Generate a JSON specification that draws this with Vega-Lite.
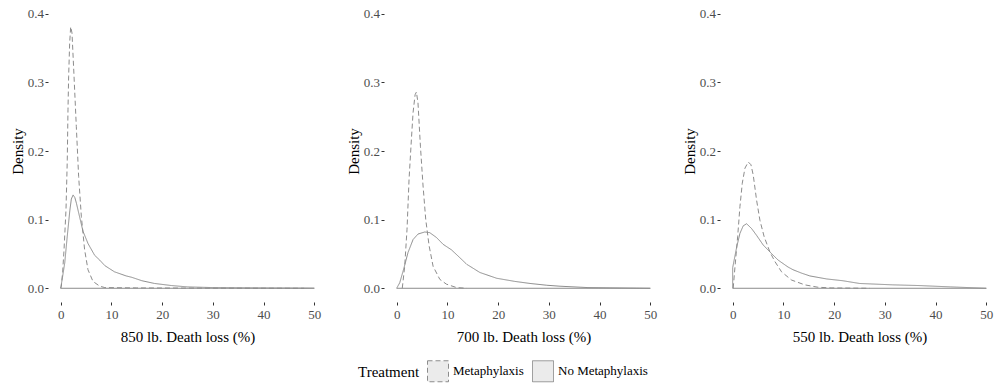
{
  "$schema": "https://vega.github.io/schema/vega-lite/v6.json",
  "padding": {"left": 10, "top": 0, "right": 0, "bottom": 0},
  "background": "white",
  "bounds": "flush",
  "spacing": 57,
  "config": {
    "font": "Liberation Serif",
    "view": {"stroke": null},
    "axis": {"domain": false, "grid": false, "tickColor": "#333333", "tickSize": 3, "labelColor": "#4d4d4d", "labelFontSize": 13, "labelFont": "Liberation Serif", "titleFont": "Liberation Serif", "titleFontSize": 15, "titleFontWeight": "normal", "titleColor": "#000000"},
    "axisX": {"labelPadding": 3, "titlePadding": 8},
    "axisY": {"labelPadding": 1.5, "titlePadding": 2}
  },
  "data": {"values": [
    {"p":"850","t":"Metaphylaxis","x":0,"d":0},
    {"p":"850","t":"Metaphylaxis","x":0.13,"d":0.003},
    {"p":"850","t":"Metaphylaxis","x":0.4,"d":0.025},
    {"p":"850","t":"Metaphylaxis","x":0.66,"d":0.056},
    {"p":"850","t":"Metaphylaxis","x":1.05,"d":0.115},
    {"p":"850","t":"Metaphylaxis","x":1.3,"d":0.187},
    {"p":"850","t":"Metaphylaxis","x":1.44,"d":0.26},
    {"p":"850","t":"Metaphylaxis","x":1.57,"d":0.309},
    {"p":"850","t":"Metaphylaxis","x":1.77,"d":0.357},
    {"p":"850","t":"Metaphylaxis","x":1.97,"d":0.381},
    {"p":"850","t":"Metaphylaxis","x":2.23,"d":0.372},
    {"p":"850","t":"Metaphylaxis","x":2.63,"d":0.309},
    {"p":"850","t":"Metaphylaxis","x":3.08,"d":0.236},
    {"p":"850","t":"Metaphylaxis","x":3.54,"d":0.163},
    {"p":"850","t":"Metaphylaxis","x":4.07,"d":0.105},
    {"p":"850","t":"Metaphylaxis","x":4.72,"d":0.056},
    {"p":"850","t":"Metaphylaxis","x":5.38,"d":0.027},
    {"p":"850","t":"Metaphylaxis","x":6.37,"d":0.010},
    {"p":"850","t":"Metaphylaxis","x":7.7,"d":0.003},
    {"p":"850","t":"Metaphylaxis","x":8.7,"d":0.001},
    {"p":"850","t":"Metaphylaxis","x":15,"d":0.0005},
    {"p":"850","t":"Metaphylaxis","x":30,"d":0.0002},
    {"p":"850","t":"Metaphylaxis","x":48,"d":0},
    {"p":"850","t":"No Metaphylaxis","x":0,"d":0},
    {"p":"850","t":"No Metaphylaxis","x":0.4,"d":0.018},
    {"p":"850","t":"No Metaphylaxis","x":0.8,"d":0.037},
    {"p":"850","t":"No Metaphylaxis","x":1.3,"d":0.076},
    {"p":"850","t":"No Metaphylaxis","x":1.8,"d":0.113},
    {"p":"850","t":"No Metaphylaxis","x":2.1,"d":0.13},
    {"p":"850","t":"No Metaphylaxis","x":2.45,"d":0.136},
    {"p":"850","t":"No Metaphylaxis","x":2.8,"d":0.132},
    {"p":"850","t":"No Metaphylaxis","x":3.1,"d":0.124},
    {"p":"850","t":"No Metaphylaxis","x":3.7,"d":0.105},
    {"p":"850","t":"No Metaphylaxis","x":4.4,"d":0.083},
    {"p":"850","t":"No Metaphylaxis","x":5.4,"d":0.065},
    {"p":"850","t":"No Metaphylaxis","x":6.7,"d":0.048},
    {"p":"850","t":"No Metaphylaxis","x":7.7,"d":0.041},
    {"p":"850","t":"No Metaphylaxis","x":8.7,"d":0.033},
    {"p":"850","t":"No Metaphylaxis","x":10.6,"d":0.024},
    {"p":"850","t":"No Metaphylaxis","x":12.9,"d":0.018},
    {"p":"850","t":"No Metaphylaxis","x":14,"d":0.016},
    {"p":"850","t":"No Metaphylaxis","x":16,"d":0.011},
    {"p":"850","t":"No Metaphylaxis","x":18.5,"d":0.007},
    {"p":"850","t":"No Metaphylaxis","x":21.8,"d":0.004},
    {"p":"850","t":"No Metaphylaxis","x":25,"d":0.002},
    {"p":"850","t":"No Metaphylaxis","x":30,"d":0.001},
    {"p":"850","t":"No Metaphylaxis","x":40,"d":0.0005},
    {"p":"850","t":"No Metaphylaxis","x":50,"d":0.0002},
    {"p":"700","t":"Metaphylaxis","x":1.1,"d":0},
    {"p":"700","t":"Metaphylaxis","x":1.58,"d":0.032},
    {"p":"700","t":"Metaphylaxis","x":2.04,"d":0.086},
    {"p":"700","t":"Metaphylaxis","x":2.44,"d":0.159},
    {"p":"700","t":"Metaphylaxis","x":2.9,"d":0.217},
    {"p":"700","t":"Metaphylaxis","x":3.23,"d":0.256},
    {"p":"700","t":"Metaphylaxis","x":3.63,"d":0.282},
    {"p":"700","t":"Metaphylaxis","x":3.89,"d":0.286},
    {"p":"700","t":"Metaphylaxis","x":4.2,"d":0.27},
    {"p":"700","t":"Metaphylaxis","x":4.68,"d":0.207},
    {"p":"700","t":"Metaphylaxis","x":5.2,"d":0.149},
    {"p":"700","t":"Metaphylaxis","x":5.73,"d":0.1},
    {"p":"700","t":"Metaphylaxis","x":6.39,"d":0.062},
    {"p":"700","t":"Metaphylaxis","x":7.18,"d":0.032},
    {"p":"700","t":"Metaphylaxis","x":8.5,"d":0.013},
    {"p":"700","t":"Metaphylaxis","x":9.8,"d":0.006},
    {"p":"700","t":"Metaphylaxis","x":11.8,"d":0.001},
    {"p":"700","t":"Metaphylaxis","x":13.8,"d":0},
    {"p":"700","t":"No Metaphylaxis","x":0,"d":0},
    {"p":"700","t":"No Metaphylaxis","x":0.6,"d":0.008},
    {"p":"700","t":"No Metaphylaxis","x":1.38,"d":0.028},
    {"p":"700","t":"No Metaphylaxis","x":2.23,"d":0.052},
    {"p":"700","t":"No Metaphylaxis","x":3.23,"d":0.071},
    {"p":"700","t":"No Metaphylaxis","x":4.2,"d":0.079},
    {"p":"700","t":"No Metaphylaxis","x":5.53,"d":0.082},
    {"p":"700","t":"No Metaphylaxis","x":6.52,"d":0.081},
    {"p":"700","t":"No Metaphylaxis","x":7.84,"d":0.074},
    {"p":"700","t":"No Metaphylaxis","x":9.16,"d":0.064},
    {"p":"700","t":"No Metaphylaxis","x":10.8,"d":0.056},
    {"p":"700","t":"No Metaphylaxis","x":12.1,"d":0.047},
    {"p":"700","t":"No Metaphylaxis","x":13.8,"d":0.035},
    {"p":"700","t":"No Metaphylaxis","x":16.4,"d":0.023},
    {"p":"700","t":"No Metaphylaxis","x":19.7,"d":0.0146},
    {"p":"700","t":"No Metaphylaxis","x":23.3,"d":0.010},
    {"p":"700","t":"No Metaphylaxis","x":26.3,"d":0.007},
    {"p":"700","t":"No Metaphylaxis","x":29.6,"d":0.0044},
    {"p":"700","t":"No Metaphylaxis","x":32.2,"d":0.003},
    {"p":"700","t":"No Metaphylaxis","x":37.7,"d":0.001},
    {"p":"700","t":"No Metaphylaxis","x":50,"d":0},
    {"p":"550","t":"Metaphylaxis","x":0.1,"d":0},
    {"p":"550","t":"Metaphylaxis","x":0.45,"d":0.031},
    {"p":"550","t":"Metaphylaxis","x":0.98,"d":0.075},
    {"p":"550","t":"Metaphylaxis","x":1.43,"d":0.119},
    {"p":"550","t":"Metaphylaxis","x":1.89,"d":0.153},
    {"p":"550","t":"Metaphylaxis","x":2.42,"d":0.175},
    {"p":"550","t":"Metaphylaxis","x":3.07,"d":0.184},
    {"p":"550","t":"Metaphylaxis","x":3.6,"d":0.18},
    {"p":"550","t":"Metaphylaxis","x":4.05,"d":0.165},
    {"p":"550","t":"Metaphylaxis","x":4.72,"d":0.128},
    {"p":"550","t":"Metaphylaxis","x":5.37,"d":0.099},
    {"p":"550","t":"Metaphylaxis","x":6.21,"d":0.075},
    {"p":"550","t":"Metaphylaxis","x":7.33,"d":0.053},
    {"p":"550","t":"Metaphylaxis","x":8.32,"d":0.039},
    {"p":"550","t":"Metaphylaxis","x":9.63,"d":0.024},
    {"p":"550","t":"Metaphylaxis","x":11.6,"d":0.012},
    {"p":"550","t":"Metaphylaxis","x":14.2,"d":0.005},
    {"p":"550","t":"Metaphylaxis","x":16.8,"d":0.0015},
    {"p":"550","t":"Metaphylaxis","x":19.4,"d":0.0005},
    {"p":"550","t":"Metaphylaxis","x":27,"d":0},
    {"p":"550","t":"No Metaphylaxis","x":0,"d":0},
    {"p":"550","t":"No Metaphylaxis","x":0,"d":0.03},
    {"p":"550","t":"No Metaphylaxis","x":0.79,"d":0.06},
    {"p":"550","t":"No Metaphylaxis","x":1.43,"d":0.08},
    {"p":"550","t":"No Metaphylaxis","x":2.08,"d":0.091},
    {"p":"550","t":"No Metaphylaxis","x":2.75,"d":0.094},
    {"p":"550","t":"No Metaphylaxis","x":3.73,"d":0.087},
    {"p":"550","t":"No Metaphylaxis","x":4.72,"d":0.077},
    {"p":"550","t":"No Metaphylaxis","x":6.02,"d":0.063},
    {"p":"550","t":"No Metaphylaxis","x":7.33,"d":0.053},
    {"p":"550","t":"No Metaphylaxis","x":8.97,"d":0.041},
    {"p":"550","t":"No Metaphylaxis","x":10.9,"d":0.031},
    {"p":"550","t":"No Metaphylaxis","x":11.9,"d":0.027},
    {"p":"550","t":"No Metaphylaxis","x":13.6,"d":0.022},
    {"p":"550","t":"No Metaphylaxis","x":15.2,"d":0.018},
    {"p":"550","t":"No Metaphylaxis","x":18.5,"d":0.0136},
    {"p":"550","t":"No Metaphylaxis","x":21.7,"d":0.011},
    {"p":"550","t":"No Metaphylaxis","x":25,"d":0.007},
    {"p":"550","t":"No Metaphylaxis","x":31.5,"d":0.005},
    {"p":"550","t":"No Metaphylaxis","x":36.6,"d":0.004},
    {"p":"550","t":"No Metaphylaxis","x":43,"d":0.002},
    {"p":"550","t":"No Metaphylaxis","x":50,"d":0}
  ]},
  "hconcat": [
    {
      "width": 279, "height": 302,
      "transform": [{"filter": "datum.p == '850'"}],
      "layer": [
        {
          "transform": [{"aggregate": [{"op": "min", "field": "x", "as": "x0"}, {"op": "max", "field": "x", "as": "x1"}]}],
          "mark": {"type": "rule", "color": "#8c8c8c", "strokeWidth": 1},
          "encoding": {"x": {"field": "x0", "type": "quantitative"}, "x2": {"field": "x1"}, "y": {"datum": 0}}
        },
        {
          "mark": {"type": "line", "color": "#8c8c8c", "strokeWidth": 1},
          "encoding": {
            "x": {"field": "x", "type": "quantitative", "scale": {"domain": [-2.5, 52.5], "nice": false, "zero": false}, "axis": {"values": [0, 10, 20, 30, 40, 50], "title": "850 lb. Death loss (%)"}},
            "y": {"field": "d", "type": "quantitative", "scale": {"domain": [-0.02, 0.42], "nice": false, "zero": false}, "axis": {"values": [0, 0.1, 0.2, 0.3, 0.4], "format": ".1f", "title": "Density"}},
            "strokeDash": {"field": "t", "type": "nominal", "scale": {"domain": ["Metaphylaxis", "No Metaphylaxis"], "range": [[5, 3], [1, 0]]},
              "legend": {"orient": "none", "legendX": 310, "legendY": 360, "direction": "horizontal", "title": "Treatment", "titleOrient": "left", "titleFontSize": 15, "titleFontWeight": "normal", "titleColor": "#000000", "titleFont": "Liberation Serif", "titlePadding": 7, "labelFontSize": 13, "labelColor": "#000000", "labelFont": "Liberation Serif", "symbolType": "square", "symbolSize": 441, "symbolFillColor": "#ebebeb", "symbolStrokeColor": "#9a9a9a", "symbolStrokeWidth": 1, "labelOffset": 4, "columnPadding": 6}}
          }
        }
      ]
    },
    {
      "width": 279, "height": 302,
      "transform": [{"filter": "datum.p == '700'"}],
      "layer": [
        {
          "transform": [{"aggregate": [{"op": "min", "field": "x", "as": "x0"}, {"op": "max", "field": "x", "as": "x1"}]}],
          "mark": {"type": "rule", "color": "#8c8c8c", "strokeWidth": 1},
          "encoding": {"x": {"field": "x0", "type": "quantitative"}, "x2": {"field": "x1"}, "y": {"datum": 0}}
        },
        {
          "mark": {"type": "line", "color": "#8c8c8c", "strokeWidth": 1},
          "encoding": {
            "x": {"field": "x", "type": "quantitative", "scale": {"domain": [-2.5, 52.5], "nice": false, "zero": false}, "axis": {"values": [0, 10, 20, 30, 40, 50], "title": "700 lb. Death loss (%)"}},
            "y": {"field": "d", "type": "quantitative", "scale": {"domain": [-0.02, 0.42], "nice": false, "zero": false}, "axis": {"values": [0, 0.1, 0.2, 0.3, 0.4], "format": ".1f", "title": "Density"}},
            "strokeDash": {"field": "t", "type": "nominal"}
          }
        }
      ]
    },
    {
      "width": 279, "height": 302,
      "transform": [{"filter": "datum.p == '550'"}],
      "layer": [
        {
          "transform": [{"aggregate": [{"op": "min", "field": "x", "as": "x0"}, {"op": "max", "field": "x", "as": "x1"}]}],
          "mark": {"type": "rule", "color": "#8c8c8c", "strokeWidth": 1},
          "encoding": {"x": {"field": "x0", "type": "quantitative"}, "x2": {"field": "x1"}, "y": {"datum": 0}}
        },
        {
          "mark": {"type": "line", "color": "#8c8c8c", "strokeWidth": 1},
          "encoding": {
            "x": {"field": "x", "type": "quantitative", "scale": {"domain": [-2.5, 52.5], "nice": false, "zero": false}, "axis": {"values": [0, 10, 20, 30, 40, 50], "title": "550 lb. Death loss (%)"}},
            "y": {"field": "d", "type": "quantitative", "scale": {"domain": [-0.02, 0.42], "nice": false, "zero": false}, "axis": {"values": [0, 0.1, 0.2, 0.3, 0.4], "format": ".1f", "title": "Density"}},
            "strokeDash": {"field": "t", "type": "nominal"}
          }
        }
      ]
    }
  ]
}
